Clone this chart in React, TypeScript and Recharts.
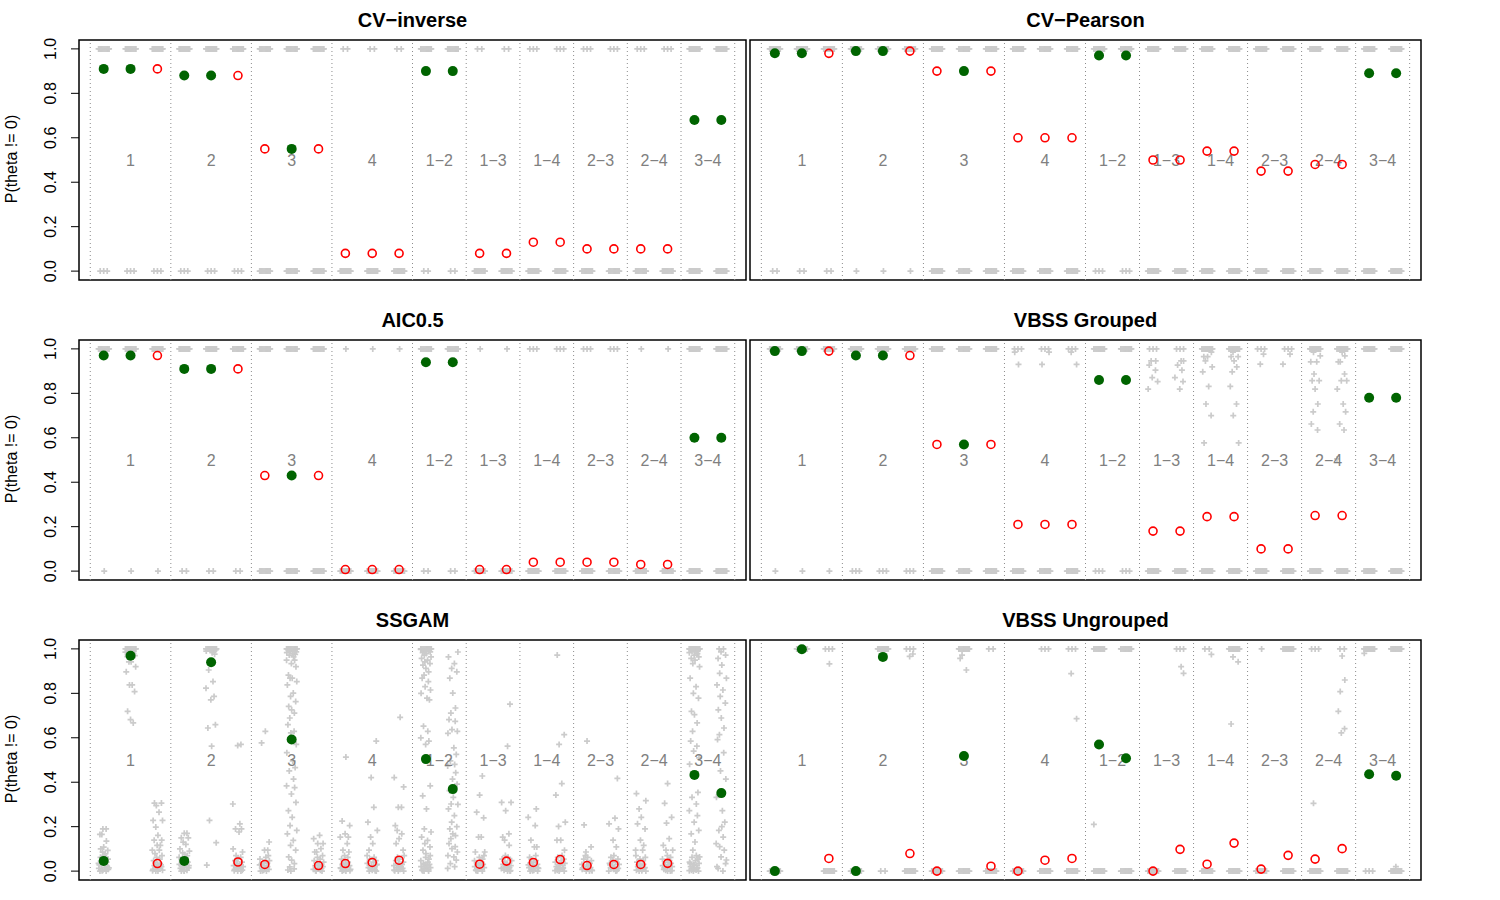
import React from "react";
import { ScatterChart, Scatter, XAxis, YAxis, ReferenceLine, ReferenceArea } from "recharts";

// groups of coefficients: 3 columns for main effects, 2 for interactions
const GROUPS = ["1", "2", "3", "4", "1−2", "1−3", "1−4", "2−3", "2−4", "3−4"];
const GROUP_SIZE = [3, 3, 3, 3, 2, 2, 2, 2, 2, 2];
// 1 = truly non-zero (green dot), 0 = null (red ring)
const TRUTH = [1, 1, 0, 1, 1, 0, 0, 1, 0, 0, 0, 0, 1, 1, 0, 0, 0, 0, 0, 0, 0, 0, 1, 1];
const Y_TICKS = [0, 0.2, 0.4, 0.6, 0.8, 1];

// mean P(theta != 0) per column
const CVI_MEAN = [0.91, 0.91, 0.91, 0.88, 0.88, 0.88, 0.55, 0.55, 0.55, 0.08, 0.08, 0.08, 0.9, 0.9, 0.08, 0.08, 0.13, 0.13, 0.1, 0.1, 0.1, 0.1, 0.68, 0.68];
const CVP_MEAN = [0.98, 0.98, 0.98, 0.99, 0.99, 0.99, 0.9, 0.9, 0.9, 0.6, 0.6, 0.6, 0.97, 0.97, 0.5, 0.5, 0.54, 0.54, 0.45, 0.45, 0.48, 0.48, 0.89, 0.89];
const AIC_MEAN = [0.97, 0.97, 0.97, 0.91, 0.91, 0.91, 0.43, 0.43, 0.43, 0.007, 0.007, 0.007, 0.94, 0.94, 0.007, 0.007, 0.04, 0.04, 0.04, 0.04, 0.03, 0.03, 0.6, 0.6];
const VBG_MEAN = [0.99, 0.99, 0.99, 0.97, 0.97, 0.97, 0.57, 0.57, 0.57, 0.21, 0.21, 0.21, 0.86, 0.86, 0.18, 0.18, 0.245, 0.245, 0.1, 0.1, 0.25, 0.25, 0.78, 0.78];
const SSG_MEAN = [0.046, 0.969, 0.034, 0.046, 0.94, 0.041, 0.03, 0.592, 0.025, 0.034, 0.039, 0.049, 0.504, 0.369, 0.031, 0.045, 0.039, 0.052, 0.025, 0.03, 0.03, 0.035, 0.433, 0.351];
const VBU_MEAN = [0.0, 0.998, 0.057, 0.0, 0.964, 0.079, 0.0, 0.518, 0.022, 0.0, 0.049, 0.057, 0.57, 0.508, 0.0, 0.098, 0.031, 0.126, 0.009, 0.071, 0.054, 0.101, 0.436, 0.429];

// how many replicate results sit at exactly 1 / 0 (0 none, 1 one, 2 two, 3 a few, 4 many)
const CVI_TOP = [4, 4, 4, 4, 4, 4, 4, 4, 4, 2, 2, 2, 4, 4, 2, 2, 3, 3, 3, 3, 3, 3, 4, 4];
const CVI_BOT = [3, 3, 3, 3, 3, 3, 4, 4, 4, 4, 4, 4, 2, 2, 4, 4, 4, 4, 4, 4, 4, 4, 4, 4];
const CVP_TOP = [4, 4, 4, 4, 4, 4, 4, 4, 4, 4, 4, 4, 4, 4, 4, 4, 4, 4, 4, 4, 4, 4, 4, 4];
const CVP_BOT = [2, 2, 2, 1, 1, 1, 4, 4, 4, 4, 4, 4, 3, 3, 4, 4, 4, 4, 4, 4, 4, 4, 4, 4];
const AIC_TOP = [4, 4, 4, 4, 4, 4, 4, 4, 4, 1, 1, 1, 4, 4, 1, 1, 3, 3, 3, 3, 1, 1, 4, 4];
const AIC_BOT = [1, 1, 1, 2, 2, 2, 4, 4, 4, 4, 4, 4, 2, 2, 4, 4, 4, 4, 4, 4, 4, 4, 4, 4];
const VBG_TOP = [4, 4, 4, 4, 4, 4, 4, 4, 4, 3, 3, 3, 4, 4, 3, 3, 4, 4, 3, 3, 4, 4, 4, 4];
const VBG_BOT = [1, 1, 1, 3, 3, 3, 4, 4, 4, 4, 4, 4, 3, 3, 4, 4, 4, 4, 4, 4, 4, 4, 4, 4];
const SSG_TOP = [0, 4, 0, 0, 4, 0, 0, 4, 0, 0, 0, 0, 4, 0, 0, 0, 0, 0, 0, 0, 0, 0, 4, 2];
const SSG_BOT = [0, 0, 0, 0, 0, 0, 0, 0, 0, 0, 0, 0, 0, 0, 0, 0, 0, 0, 0, 0, 0, 0, 0, 0];
const VBU_TOP = [0, 4, 3, 0, 4, 3, 0, 4, 2, 0, 3, 3, 4, 4, 0, 3, 2, 4, 1, 4, 3, 2, 4, 4];
const VBU_BOT = [4, 0, 4, 4, 2, 4, 4, 4, 4, 4, 4, 4, 4, 4, 4, 4, 4, 4, 4, 4, 4, 4, 3, 4];

// other replicate values (between 0 and 1)
const NO_EXTRA: number[][] = GROUP_SIZE.flatMap((n) => Array.from({ length: n }, () => []));

const VBG_EXTRA = [
  [], [], [], [], [], [], [], [], [],
  [0.985, 0.93], [0.985, 0.93], [0.985, 0.93],
  [], [],
  [0.946, 0.946, 0.927, 0.904, 0.871, 0.853, 0.819],
  [0.946, 0.946, 0.927, 0.904, 0.871, 0.853, 0.819],
  [0.985, 0.965, 0.965, 0.946, 0.919, 0.897, 0.831, 0.752, 0.7, 0.577],
  [0.985, 0.965, 0.965, 0.946, 0.919, 0.897, 0.831, 0.752, 0.7, 0.577],
  [0.976, 0.931],
  [0.976, 0.931],
  [0.985, 0.969, 0.942, 0.942, 0.887, 0.857, 0.857, 0.819, 0.752, 0.717, 0.662, 0.635],
  [0.985, 0.969, 0.942, 0.942, 0.887, 0.857, 0.857, 0.819, 0.752, 0.717, 0.662, 0.635, 0.505],
  [], [],
];

const SS_LOW = [0, 0, 0.004, 0.008, 0.012, 0.016, 0.02, 0.025, 0.03, 0.035, 0.04, 0.047, 0.054, 0.062, 0.07, 0.002, 0.015, 0.028];

const SSG_EXTRA = [
  [...SS_LOW, 0.078, 0.085, 0.093, 0.1, 0.108, 0.135, 0.165, 0.165, 0.19, 0.19],
  [0.996, 0.99, 0.985, 0.98, 0.975, 0.97, 0.965, 0.942, 0.942, 0.92, 0.897, 0.838, 0.838, 0.808, 0.719, 0.682, 0.667],
  [...SS_LOW, 0.079, 0.094, 0.094, 0.116, 0.116, 0.139, 0.139, 0.161, 0.198, 0.228, 0.228, 0.265, 0.295, 0.306, 0.306],
  [...SS_LOW, 0.075, 0.082, 0.09, 0.1, 0.12, 0.13, 0.15, 0.15, 0.17, 0.17],
  [0.995, 0.99, 0.983, 0.976, 0.905, 0.853, 0.823, 0.786, 0.771, 0.659, 0.644, 0.562, 0.228, 0.128, 0.027],
  [...SS_LOW, 0.086, 0.1, 0.176, 0.19, 0.19, 0.213, 0.302, 0.57, 0.565],
  [...SS_LOW, 0.094, 0.094, 0.131, 0.577, 0.629],
  [1, 0.997, 0.994, 0.99, 0.987, 0.983, 0.979, 0.975, 0.972, 0.964, 0.949, 0.949, 0.934, 0.92, 0.882, 0.868, 0.868, 0.853, 0.838, 0.801, 0.786, 0.763, 0.741, 0.726, 0.711, 0.689, 0.659, 0.629, 0.622, 0.57, 0.533, 0.496, 0.466, 0.451, 0.414, 0.384, 0.376, 0.347, 0.309, 0.272, 0.242, 0.205, 0.183, 0.168, 0.138, 0.116, 0.094, 0.064, 0.049, 0.034, 0.019, 0.005, 0.01, 0.0],
  [...SS_LOW, 0.086, 0.086, 0.101, 0.124, 0.124, 0.146, 0.161],
  [...SS_LOW, 0.086, 0.094, 0.124, 0.153, 0.153, 0.168, 0.205, 0.225, 0.513],
  [...SS_LOW, 0.094, 0.124, 0.153, 0.183, 0.22, 0.287, 0.421, 0.585],
  [...SS_LOW, 0.094, 0.124, 0.146, 0.168, 0.183, 0.205, 0.287, 0.287, 0.379, 0.421, 0.692],
  [0.998, 0.994, 0.99, 0.987, 0.983, 0.979, 0.972, 0.964, 0.957, 0.949, 0.942, 0.934, 0.927, 0.912, 0.897, 0.882, 0.868, 0.853, 0.83, 0.815, 0.8, 0.778, 0.771, 0.652, 0.629, 0.6, 0.585, 0.57, 0.384, 0.339, 0.28, 0.19, 0.176, 0.153, 0.138, 0.124, 0.109, 0.094, 0.079, ...SS_LOW],
  [0.986, 0.964, 0.934, 0.912, 0.897, 0.868, 0.801, 0.734, 0.711, 0.682, 0.674, 0.637, 0.629, 0.62, 0.555, 0.525, 0.496, 0.48, 0.473, 0.443, 0.414, 0.391, 0.362, 0.332, 0.302, 0.3, 0.28, 0.25, 0.22, 0.2, 0.19, 0.168, 0.16, 0.146, 0.124, 0.11, 0.101, 0.086, 0.07, 0.064, 0.049, 0.034, 0.02, 0.012],
  [...SS_LOW, 0.086, 0.086, 0.153, 0.153, 0.24, 0.265, 0.342, 0.428],
  [...SS_LOW, 0.116, 0.139, 0.153, 0.168, 0.272, 0.309, 0.309, 0.562, 0.751],
  [...SS_LOW, 0.109, 0.109, 0.139, 0.205, 0.242, 0.28],
  [...SS_LOW, 0.094, 0.139, 0.139, 0.201, 0.22, 0.342, 0.394, 0.57, 0.614, 0.972],
  [...SS_LOW, 0.086, 0.109, 0.208, 0.585],
  [...SS_LOW, 0.109, 0.139, 0.19, 0.213, 0.238, 0.417],
  [...SS_LOW, 0.094, 0.094, 0.116, 0.139, 0.19, 0.213, 0.242, 0.28, 0.317, 0.349],
  [...SS_LOW, 0.094, 0.094, 0.116, 0.146, 0.216, 0.242, 0.305, 0.394],
  [1, 0.997, 0.994, 0.99, 0.987, 0.983, 0.979, 0.972, 0.964, 0.957, 0.949, 0.934, 0.92, 0.868, 0.83, 0.8, 0.778, 0.719, 0.704, 0.667, 0.629, 0.585, 0.562, 0.54, 0.51, 0.481, 0.428, 0.354, 0.332, 0.302, 0.272, 0.25, 0.22, 0.183, 0.168, 0.131, 0.094, 0.064, 0.034, 0.005, ...SS_LOW],
  [0.987, 0.972, 0.957, 0.927, 0.89, 0.868, 0.838, 0.815, 0.786, 0.756, 0.726, 0.689, 0.644, 0.614, 0.592, 0.533, 0.451, 0.414, 0.332, 0.272, 0.22, 0.183, 0.153, 0.124, 0.094, 0.064, 0.034, 0.012, 0.2, 0.11, 0.05, 0.02, 0.0],
];

const VBU_EXTRA = [
  [], [], [0.933],
  [], [], [0.977, 0.966],
  [], [0.972, 0.957, 0.905], [],
  [], [], [0.889, 0.686],
  [0.21], [],
  [], [0.92, 0.89],
  [0.975], [0.964, 0.942, 0.662],
  [], [],
  [0.305], [0.968, 0.86, 0.808, 0.719, 0.641, 0.622],
  [0.98], [0.02],
];

// horizontal jitter (in column units) for the grey replicate marks
const JITTER = [-0.14, 0.09, -0.03, 0.17, -0.18, 0.04, 0.13, -0.09, 0.07, -0.19, 0.11, -0.01, 0.16, -0.12, 0.02, -0.06, 0.19, -0.16, 0.06, -0.04, 0.15, -0.11, 0.0, 0.1, -0.07];
const BAND: number[][] = [
  [],
  [0.02],
  [-0.08, 0.08],
  [-0.13, 0, 0.13],
  [-0.19, -0.15, -0.11, -0.07, -0.03, 0.01, 0.05, 0.09, 0.13, 0.17, 0.2],
];

const PANELS = [
  { title: "CV−inverse", mean: CVI_MEAN, top: CVI_TOP, bot: CVI_BOT, extra: NO_EXTRA },
  { title: "CV−Pearson", mean: CVP_MEAN, top: CVP_TOP, bot: CVP_BOT, extra: NO_EXTRA },
  { title: "AIC0.5", mean: AIC_MEAN, top: AIC_TOP, bot: AIC_BOT, extra: NO_EXTRA },
  { title: "VBSS Grouped", mean: VBG_MEAN, top: VBG_TOP, bot: VBG_BOT, extra: VBG_EXTRA },
  { title: "SSGAM", mean: SSG_MEAN, top: SSG_TOP, bot: SSG_BOT, extra: SSG_EXTRA },
  { title: "VBSS Ungrouped", mean: VBU_MEAN, top: VBU_TOP, bot: VBU_BOT, extra: VBU_EXTRA },
];

const FONT = "'Liberation Sans', Arial, Helvetica, sans-serif";
const X_DOMAIN: [number, number] = [0.08, 24.92];
const Y_DOMAIN: [number, number] = [-0.04, 1.04];

// group boundaries and label centres
const BOUNDS: number[] = [0.5];
const LABELS: { x: number; y: number; label: string }[] = [];
GROUP_SIZE.reduce((start, n, g) => {
  BOUNDS.push(start + n - 0.5);
  LABELS.push({ x: start + (n - 1) / 2, y: 0.5, label: GROUPS[g] });
  return start + n;
}, 1);

function buildGrey(top: number[], bot: number[], extra: number[][]) {
  const pts: { x: number; y: number }[] = [];
  top.forEach((code, i) => BAND[code].forEach((o) => pts.push({ x: i + 1 + o, y: 1 })));
  bot.forEach((code, i) => BAND[code].forEach((o) => pts.push({ x: i + 1 + o, y: 0 })));
  extra.forEach((vals, i) =>
    vals.forEach((v, k) => pts.push({ x: i + 1 + JITTER[(k + i * 7) % JITTER.length], y: v }))
  );
  return pts;
}

const Cross = (p: any) => {
  if (p.cx == null || p.cy == null) return <g />;
  const s = 3;
  return (
    <path
      d={`M${p.cx - s},${p.cy}H${p.cx + s}M${p.cx},${p.cy - s}V${p.cy + s}`}
      stroke="#CBCBCB"
      strokeWidth={1.7}
      fill="none"
    />
  );
};
const Dot = (p: any) => <circle cx={p.cx} cy={p.cy} r={5} fill="#006400" />;
const Ring = (p: any) => <circle cx={p.cx} cy={p.cy} r={4} fill="none" stroke="#FF0000" strokeWidth={1.6} />;
const GroupText = (p: any) => (
  <text x={p.cx} y={p.cy + 6} textAnchor="middle" fontSize={16} fill="#808080" fontFamily={FONT}>
    {p.payload.label}
  </text>
);
const YTick = (p: any) => {
  const bx = p.x - 13;
  return (
    <text x={bx} y={p.y} transform={`rotate(-90 ${bx} ${p.y})`} textAnchor="middle" fontSize={16} fill="#000" fontFamily={FONT}>
      {Number(p.payload.value).toFixed(1)}
    </text>
  );
};

function Panel({ panel, left }: { panel: (typeof PANELS)[number]; left: boolean }) {
  const grey = buildGrey(panel.top, panel.bot, panel.extra);
  const means = panel.mean.map((v, i) => ({ x: i + 1, y: v, t: TRUTH[i] }));
  const green = means.filter((d) => d.t === 1);
  const red = means.filter((d) => d.t === 0);
  const boxLeft = left ? 79 : 2;
  const boxWidth = left ? 667 : 671;
  return (
    <div style={{ position: "relative", width: 750, height: 300 }}>
      <div
        style={{
          position: "absolute",
          left: boxLeft,
          width: boxWidth,
          top: 10,
          lineHeight: "20px",
          textAlign: "center",
          fontWeight: "bold",
          fontSize: 20,
          fontFamily: FONT,
        }}
      >
        {panel.title}
      </div>
      {left && (
        <div
          style={{
            position: "absolute",
            left: 12,
            top: 159,
            transform: "translate(-50%, -50%) rotate(-90deg)",
            whiteSpace: "nowrap",
            fontSize: 16,
            fontFamily: FONT,
          }}
        >
          P(theta != 0)
        </div>
      )}
      <ScatterChart
        width={750}
        height={300}
        margin={left ? { top: 40, right: 4, bottom: 20, left: 0 } : { top: 40, right: 77, bottom: 20, left: 2 }}
      >
        <XAxis type="number" dataKey="x" domain={X_DOMAIN} allowDataOverflow hide />
        <YAxis
          type="number"
          dataKey="y"
          domain={Y_DOMAIN}
          allowDataOverflow
          ticks={Y_TICKS}
          hide={!left}
          width={79}
          axisLine={false}
          tickSize={8}
          tickLine={{ stroke: "#000", strokeWidth: 1 }}
          tick={<YTick />}
        />
        {BOUNDS.map((b) => (
          <ReferenceLine key={b} x={b} stroke="#8c8c8c" strokeDasharray="1 3" />
        ))}
        <Scatter data={grey} shape={Cross} isAnimationActive={false} />
        <Scatter data={LABELS} shape={GroupText} isAnimationActive={false} />
        <Scatter data={red} shape={Ring} isAnimationActive={false} />
        <Scatter data={green} shape={Dot} isAnimationActive={false} />
        <ReferenceArea
          x1={X_DOMAIN[0]}
          x2={X_DOMAIN[1]}
          y1={Y_DOMAIN[0]}
          y2={Y_DOMAIN[1]}
          fill="none"
          stroke="#000"
          strokeWidth={1.5}
          ifOverflow="visible"
        />
      </ScatterChart>
    </div>
  );
}

export default function App() {
  return (
    <div style={{ position: "absolute", left: 0, top: 0, width: 1500, height: 900, background: "#fff", fontFamily: FONT }}>
      {PANELS.map((p, i) => (
        <div
          key={p.title}
          style={{ position: "absolute", left: i % 2 === 0 ? 0 : 748, top: Math.floor(i / 2) * 300 }}
        >
          <Panel panel={p} left={i % 2 === 0} />
        </div>
      ))}
    </div>
  );
}
